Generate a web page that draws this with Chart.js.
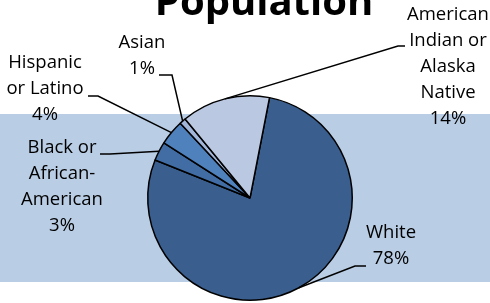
<!DOCTYPE html>
<html>
<head>
<meta charset="utf-8">
<script src="https://cdn.jsdelivr.net/npm/chart.js@4"></script>
<style>
  html, body { margin: 0; padding: 0; background: #fff; }
  #wrap { width: 490px; height: 303px; }
</style>
</head>
<body>
<div id="wrap"><canvas id="popChart" width="490" height="303"></canvas></div>
<script>
// data
var groups = ['White', 'Black or African-American', 'Hispanic or Latino', 'Asian', 'American Indian or Alaska Native'];
var shares = [78, 3, 4, 1, 14];
var labelLines = [
    ['White', '78%'],
    ['Black or', 'African-', 'American', '3%'],
    ['Hispanic', 'or Latino', '4%'],
    ['Asian', '1%'],
    ['American', 'Indian or', 'Alaska', 'Native', '14%']
];
var sliceColors = ['#3a5f8f', '#416da4', '#4f81bd', '#a2b6da', '#bac8e1'];

// where each label block sits: centre x, first line y, leader line elbow
var labelPlaces = [
    { x: 391, y: 233, elbowX: 355, elbowY: 266, endX: 366 },
    { x: 62, y: 148, elbowX: 110, elbowY: 154, endX: 100 },
    { x: 45, y: 63, elbowX: 98, elbowY: 96, endX: 88 },
    { x: 142, y: 43, elbowX: 172, elbowY: 75, endX: 159 },
    { x: 448, y: 15, elbowX: 398, elbowY: 46, endX: 405 }
];

var bandPlugin = {
    id: 'band',
    beforeDraw: function (chart) {
        var c = chart.ctx;
        c.save();
        c.fillStyle = '#b9cde5';
        c.fillRect(0, 114, chart.width, 168);
        c.restore();
    }
};

var labelPlugin = {
    id: 'leaders',
    afterDraw: function (chart) {
        var c = chart.ctx;
        var arcs = chart.getDatasetMeta(0).data;
        c.save();
        // title, cut off at the top like the original
        c.fillStyle = '#000';
        c.font = 'bold 40px "Open Sans"';
        c.textAlign = 'center';
        c.textBaseline = 'alphabetic';
        c.fillText('Population', 264, 15);

        c.font = '18.5px "Open Sans"';
        c.textBaseline = 'middle';
        c.strokeStyle = '#000';
        c.lineWidth = 1.5;
        arcs.forEach(function (arc, i) {
            var p = labelPlaces[i];
            var mid = (arc.startAngle + arc.endAngle) / 2;
            var ax = arc.x + Math.cos(mid) * arc.outerRadius;
            var ay = arc.y + Math.sin(mid) * arc.outerRadius;
            c.beginPath();
            c.moveTo(p.endX, p.elbowY);
            c.lineTo(p.elbowX, p.elbowY);
            c.lineTo(ax, ay);
            c.stroke();
            labelLines[i].forEach(function (t, k) {
                c.fillText(t, p.x, p.y + k * 26);
            });
        });
        c.restore();
    }
};

var ctx = document.getElementById('popChart').getContext('2d');

var chart = new Chart(ctx, {
    type: 'pie',
    data: {
        labels: groups,
        datasets: [{
            data: shares,
            backgroundColor: sliceColors,
            borderColor: '#000',
            borderWidth: 1.5
        }]
    },
    options: {
        responsive: false,
        animation: false,
        rotation: 11,
        layout: { padding: { left: 147, right: 137, top: 95, bottom: 2 } },
        plugins: {
            legend: { display: false },
            tooltip: { enabled: false },
            title: { display: false }
        }
    },
    plugins: [bandPlugin, labelPlugin]
});
</script>
</body>
</html>
